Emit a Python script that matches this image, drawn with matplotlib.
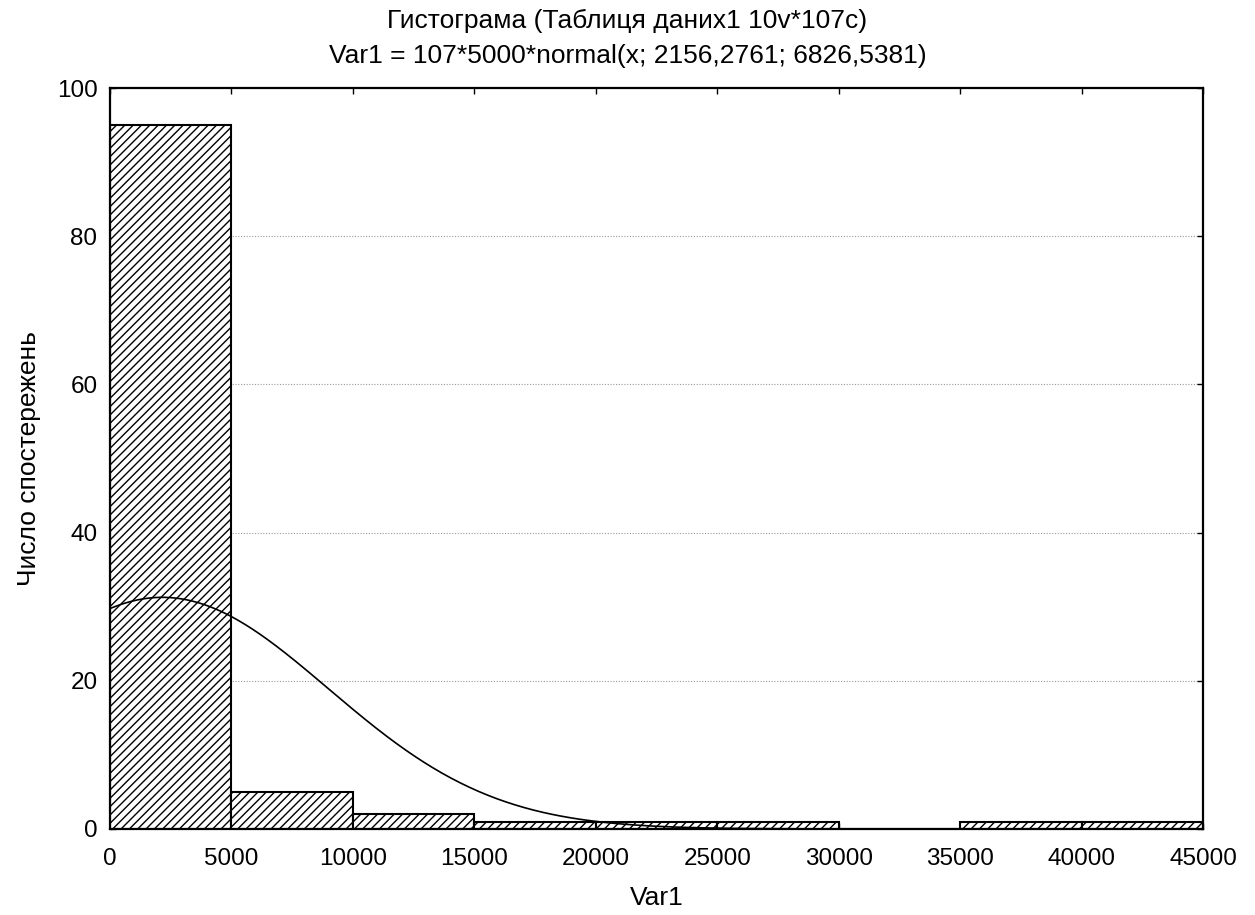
import numpy as np
import matplotlib
matplotlib.use("Agg")
import matplotlib.pyplot as plt

plt.rcParams["font.family"] = ["Liberation Sans", "DejaVu Sans"]
plt.rcParams["hatch.linewidth"] = 1.0

# histogram data (bin edges in Var1 units, counts per bin)
bin_left = [0, 5000, 10000, 15000, 20000, 25000, 30000, 35000, 40000]
bin_width = 5000
counts = [95, 5, 2, 1, 1, 1, 0, 1, 1]

# fitted normal curve parameters (from the title)
n_obs = 107
fit_mean = 2156.2761
fit_sd = 6826.5381

xticks = [0, 5000, 10000, 15000, 20000, 25000, 30000, 35000, 40000, 45000]
yticks = [0, 20, 40, 60, 80, 100]

fig = plt.figure(figsize=(12.55, 9.15), dpi=100)
ax = fig.add_axes([0.0876, 0.094, 0.871, 0.8098])

for y in yticks[1:-1]:
    ax.axhline(y, color="#9a9a9a", lw=0.8, ls=(0, (1, 1.5)), zorder=0)

ax.bar(bin_left, counts, width=bin_width, align="edge", facecolor="white",
       edgecolor="black", lw=1.5, hatch="////", zorder=2)

xs = np.linspace(0, 45000, 600)
pdf = np.exp(-0.5 * ((xs - fit_mean) / fit_sd) ** 2) / (fit_sd * np.sqrt(2 * np.pi))
ax.plot(xs, n_obs * bin_width * pdf, color="black", lw=1.2, zorder=3)

ax.set_xlim(0, 45000)
ax.set_ylim(0, 100)
ax.set_xticks(xticks)
ax.set_yticks(yticks)
ax.tick_params(direction="in", length=4, width=1, top=True, right=True,
               labelsize=17.5)
ax.tick_params(axis="x", pad=14)
ax.tick_params(axis="y", pad=9)
for s in ax.spines.values():
    s.set_linewidth(1.6)

ax.set_xlabel("Var1", fontsize=19, labelpad=11)
ax.set_ylabel("Число спостережень", fontsize=19, labelpad=11)
fig.text(0.5, 0.9694, "Гистограма (Таблиця даних1 10v*107c)", ha="center",
         va="baseline", fontsize=19)
fig.text(0.5, 0.9311, "Var1 = 107*5000*normal(x; 2156,2761; 6826,5381)",
         ha="center", va="baseline", fontsize=19)

fig.savefig("out.png", dpi=100, facecolor="white")
